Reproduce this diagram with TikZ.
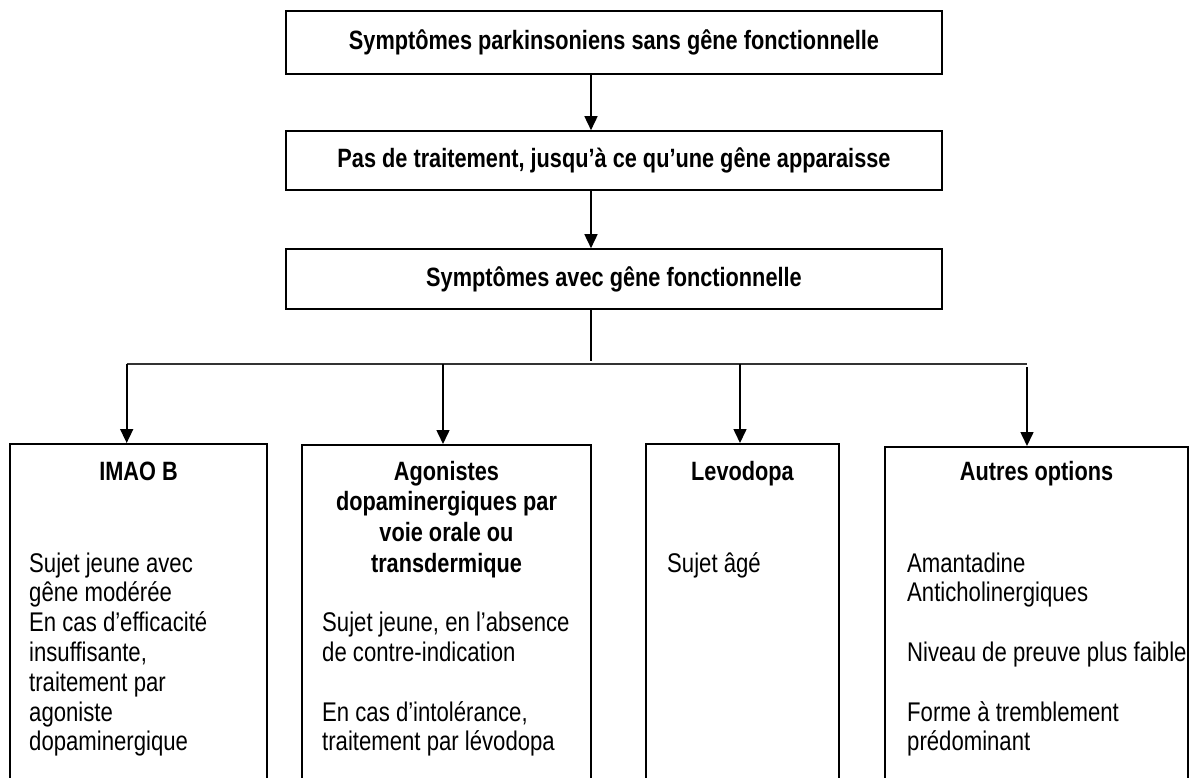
\documentclass[tikz,border=0pt]{standalone}
\usepackage{fontspec}
\setmainfont{Liberation Sans}[FakeStretch=0.82]
\usetikzlibrary{arrows.meta}
\tikzset{
  lnk/.style={line width=1.6pt},
  buslnk/.style={line width=1.3pt, draw=black!80},
  arr/.style={line width=1.6pt, -{Triangle[length=14pt,width=13pt]}},
  topbox/.style={draw, line width=1.6pt, minimum width=656pt, inner sep=0pt,
    font=\bfseries\fontsize{26.5}{30}\selectfont},
  colbox/.style={draw, line width=1.6pt, anchor=north, inner sep=0pt, minimum height=400pt},
  ttl/.style={anchor=base, inner sep=0pt, text width=270pt, align=flush center,
    font=\bfseries\fontsize{26.5}{30.7}\selectfont},
  bdy/.style={anchor=base west, inner sep=0pt, text width=300pt, align=flush left,
    font=\fontsize{27}{29.8}\selectfont},
}
\begin{document}
\begin{tikzpicture}[x=1pt,y=-1pt]
\useasboundingbox (0,0) rectangle (1192,778);
\clip (0,0) rectangle (1192,778);
\fill[white] (0,0) rectangle (1192,778);

% top chain
\node[topbox, minimum height=63pt] (b1) at (614,42.5) {Symptômes parkinsoniens sans gêne fonctionnelle};
\node[topbox, minimum height=59pt] (b2) at (614,160.5) {Pas de traitement, jusqu’à ce qu’une gêne apparaisse};
\node[topbox, minimum height=60pt] (b3) at (614,279) {Symptômes avec gêne fonctionnelle};

% column boxes
\node[colbox, minimum width=257pt] (cA) at (138.5,443) {};
\node[colbox, minimum width=289pt] (cB) at (446.5,444) {};
\node[colbox, minimum width=193pt] (cC) at (742.5,443) {};
\node[colbox, minimum width=303pt] (cD) at (1036.5,446) {};

% titles
\node[ttl] (tA) at (138.5,480) {IMAO B};
\node[ttl] (tB) at (446.5,480) {Agonistes\\dopaminergiques par\\voie orale ou\\transdermique};
\node[ttl] (tC) at (742.5,480) {Levodopa};
\node[ttl] (tD) at (1036.5,480) {Autres options};

% bodies
\node[bdy] (xA) at (29,572) {Sujet jeune avec\\gêne modérée\\En cas d’efficacité\\insuffisante,\\traitement par\\agoniste\\dopaminergique};
\node[bdy] (xB) at (322,631.6) {Sujet jeune, en l’absence\\de contre-indication\\[29.8pt]En cas d’intolérance,\\traitement par lévodopa};
\node[bdy] (xC) at (667,572) {Sujet âgé};
\node[bdy] (xD) at (907,572) {Amantadine\\Anticholinergiques\\[29.8pt]Niveau de preuve plus faible\\[29.8pt]Forme à tremblement\\prédominant};

% connectors
\coordinate (sp) at (591,0);
\draw[arr] (b1.south -| sp) -- (b2.north -| sp);
\draw[arr] (b2.south -| sp) -- (b3.north -| sp);
\coordinate (busend) at (591,361);
\draw[lnk] (b3.south -| sp) -- (busend);
\coordinate (pA) at (126.7,364);
\coordinate (pB) at (443,364);
\coordinate (pC) at (740,364);
\coordinate (pD) at (1027,364);
\coordinate (pD2) at (1027,367);
\draw[buslnk] (pA) -- (pD);
\draw[arr] (pA) -- (cA.north -| pA);
\draw[arr] (pB) -- (cB.north -| pB);
\draw[arr] (pC) -- (cC.north -| pC);
\draw[arr] (pD2) -- (cD.north -| pD2);
\end{tikzpicture}
\end{document}
